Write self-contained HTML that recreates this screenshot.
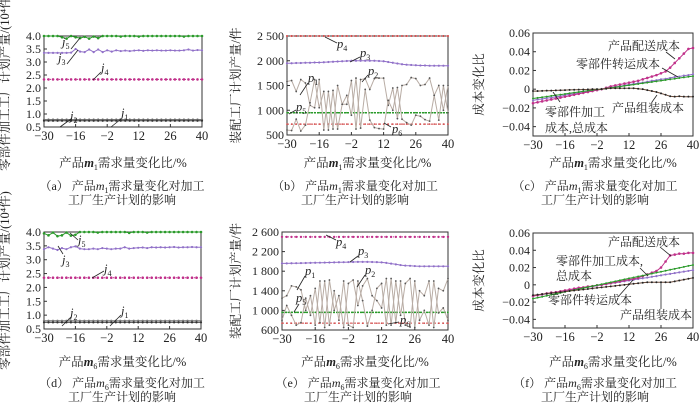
<!DOCTYPE html>
<html><head><meta charset="utf-8"><style>
html,body{margin:0;padding:0;background:#fff;width:700px;height:404px;overflow:hidden}
svg text{font-family:"Liberation Serif","Noto Serif CJK SC",serif;fill:#222}
.cn{font-family:"Liberation Serif","Noto Serif CJK SC",serif}
</style></head><body>
<svg id="fig" width="700" height="404" viewBox="0 0 700 404" xmlns="http://www.w3.org/2000/svg"></svg>
<script>
const xs=[-30,-28,-26,-24,-22,-20,-18,-16,-14,-12,-10,-8,-6,-4,-2,0,2,4,6,8,10,12,14,16,18,20,22,24,26,28,30,32,34,36,38,40];
const xTicks=[-30,-16,-2,12,26,40];
// panel a
const a_j5=[4,4,4,4,3.95,3.9,4,3.95,3.92,3.97,3.9,3.98,3.92,4,4,4,4,3.98,4,4,4,3.98,4,4,4,4,4,4,4,4,4,3.98,4,4,4,4];
const a_j3=[3.35,3.35,3.35,3.35,3.35,3.35,3.36,3.5,3.4,3.38,3.48,3.38,3.48,3.38,3.45,3.4,3.45,3.42,3.44,3.42,3.44,3.45,3.43,3.45,3.44,3.45,3.44,3.44,3.45,3.44,3.44,3.45,3.48,3.44,3.46,3.45];
const a_j4=[2.33,2.33,2.33,2.33,2.33,2.33,2.33,2.33,2.33,2.33,2.33,2.33,2.33,2.33,2.33,2.33,2.33,2.33,2.33,2.33,2.33,2.33,2.33,2.33,2.33,2.33,2.33,2.33,2.33,2.33,2.33,2.33,2.33,2.33,2.33,2.33];
const a_j2=[0.79,0.79,0.79,0.79,0.79,0.79,0.79,0.79,0.79,0.79,0.79,0.79,0.79,0.79,0.79,0.79,0.79,0.79,0.79,0.79,0.79,0.79,0.79,0.79,0.79,0.79,0.79,0.79,0.79,0.79,0.79,0.79,0.79,0.79,0.79,0.79];
const a_j1=[0.74,0.74,0.74,0.74,0.74,0.74,0.74,0.74,0.74,0.74,0.74,0.74,0.74,0.74,0.74,0.74,0.74,0.74,0.74,0.74,0.74,0.74,0.74,0.74,0.74,0.74,0.74,0.74,0.74,0.74,0.74,0.74,0.74,0.74,0.74,0.74];
const jTicks=[0.5,1.0,1.5,2.0,2.5,3.0,3.5,4.0];
// panel b
const b_p1=[1580,1600,1380,1620,1550,1100,1050,1620,600,1380,620,1500,1120,1120,1600,620,1620,1640,1420,1640,1650,1650,1100,1450,830,1500,1520,1660,1640,1500,1520,1650,1300,1500,1000,1500];
const b_p2=[600,590,820,580,700,1150,1620,1050,1380,600,1400,620,1120,1300,900,1650,640,1420,800,650,630,620,1200,1000,1460,820,750,700,900,880,810,780,1300,800,1500,950];
const b_p3=[1950,1950,1955,1955,1960,1960,1965,1965,1970,1975,1980,1985,1990,1995,2000,2000,2000,2000,2000,2000,1995,1990,1975,1960,1945,1930,1920,1915,1910,1905,1905,1900,1900,1900,1900,1900];
const b_p4=[2500,2500,2500,2500,2500,2500,2500,2500,2500,2500,2500,2500,2500,2500,2500,2500,2500,2500,2500,2500,2500,2500,2500,2500,2500,2500,2500,2500,2500,2500,2500,2500,2500,2500,2500,2500];
const b_p5=[950,950,950,950,950,950,950,950,950,950,950,950,950,950,950,950,950,950,950,950,950,950,950,950,950,950,950,950,950,950,950,950,950,950,950,950];
const b_p6=[720,720,720,720,720,720,720,720,720,720,720,720,720,720,720,720,720,720,720,720,720,720,720,720,720,720,720,720,720,720,720,720,720,720,720,720];
const bTicks=[500,1000,1500,2000,2500];
const bTickLabels=["500","1 000","1 500","2 000","2 500"];
// panel c
const c_ship=[-0.015,-0.014,-0.013,-0.012,-0.011,-0.010,-0.009,-0.008,-0.007,-0.006,-0.005,-0.004,-0.003,-0.002,-0.001,0,0.0015,0.003,0.004,0.005,0.006,0.007,0.008,0.009,0.0105,0.012,0.0135,0.015,0.017,0.019,0.023,0.028,0.033,0.038,0.043,0.044];
const c_trans=[-0.012,-0.011,-0.0105,-0.0095,-0.009,-0.008,-0.0075,-0.0065,-0.0055,-0.005,-0.004,-0.0035,-0.0025,-0.0015,-0.001,0,0.001,0.0015,0.0025,0.003,0.004,0.005,0.0055,0.0065,0.007,0.008,0.009,0.0095,0.0105,0.011,0.012,0.013,0.0135,0.0145,0.015,0.016];
const c_total=[-0.01,-0.0093,-0.0086,-0.0079,-0.0072,-0.0065,-0.0058,-0.0051,-0.0044,-0.0037,-0.003,-0.0023,-0.0016,-0.0009,-0.0002,0,0.0007,0.0014,0.0021,0.0028,0.0035,0.0042,0.0049,0.0056,0.0063,0.007,0.0077,0.0084,0.0091,0.0098,0.0105,0.0112,0.0119,0.0126,0.0133,0.014];
const c_asm=[-0.002,-0.002,-0.0018,-0.0016,-0.0015,-0.0013,-0.0012,-0.001,-0.0008,-0.0006,-0.0005,-0.0003,-0.0002,0,0,0,0.0005,0.001,0.001,0.001,0.001,0.001,0.001,0.0005,0,-0.001,-0.002,-0.003,-0.0045,-0.006,-0.0075,-0.008,-0.0075,-0.008,-0.008,-0.008];
const cTicks=[-0.04,-0.02,0,0.02,0.04,0.06];
const cTickLabels=["\u22120.04","\u22120.02","0","0.02","0.04","0.06"];
// panel d
const d_j5=[3.95,3.88,3.98,3.85,3.88,3.98,3.87,3.9,4,4,4,4,3.98,4,4,4,4,4,4,3.97,4,4,4,3.98,4,4,4,4,4,4,4,4,4,4,4,4];
const d_j3=[3.38,3.45,3.4,3.35,3.42,3.38,3.45,3.48,3.4,3.38,3.38,3.4,3.38,3.42,3.4,3.38,3.4,3.4,3.45,3.4,3.42,3.43,3.44,3.42,3.45,3.44,3.45,3.44,3.45,3.46,3.44,3.45,3.45,3.46,3.45,3.45];
const d_j4=[2.35,2.35,2.35,2.35,2.35,2.35,2.35,2.35,2.35,2.35,2.35,2.35,2.35,2.35,2.35,2.35,2.35,2.35,2.35,2.35,2.35,2.35,2.35,2.35,2.35,2.35,2.35,2.35,2.35,2.35,2.35,2.35,2.35,2.35,2.35,2.35];
const d_j2=[0.8,0.8,0.8,0.8,0.8,0.8,0.8,0.8,0.8,0.8,0.8,0.8,0.8,0.8,0.8,0.8,0.8,0.8,0.8,0.8,0.8,0.8,0.8,0.8,0.8,0.8,0.8,0.8,0.8,0.8,0.8,0.8,0.8,0.8,0.8,0.8];
const d_j1=[0.74,0.74,0.74,0.74,0.74,0.74,0.74,0.74,0.74,0.74,0.74,0.74,0.74,0.74,0.74,0.74,0.74,0.74,0.74,0.74,0.74,0.74,0.74,0.74,0.74,0.74,0.74,0.74,0.74,0.74,0.74,0.74,0.74,0.74,0.74,0.74];
// panel e
const e_p1=[1250,1300,1500,1480,1420,1000,1300,700,1600,650,1620,1000,1300,650,1550,1620,1100,1500,1650,1300,1200,1050,1650,700,1600,900,1550,1650,650,1400,1300,1600,650,1450,1400,1650];
const e_p2=[800,1100,900,700,750,1250,900,1450,750,1600,700,1400,800,1600,700,650,1600,1200,680,1000,1450,1550,700,1650,750,1600,700,660,1600,800,1000,700,1600,950,1050,800];
const e_p3=[1960,1960,1962,1964,1966,1968,1970,1972,1974,1976,1978,1980,1982,1984,1986,1988,1990,1990,1990,1988,1985,1980,1970,1955,1940,1925,1915,1910,1905,1900,1900,1900,1900,1900,1900,1900];
const e_p4=[2500,2500,2500,2500,2500,2500,2500,2500,2500,2500,2500,2500,2500,2500,2500,2500,2500,2500,2500,2500,2500,2500,2500,2500,2500,2500,2500,2500,2500,2500,2500,2500,2500,2500,2500,2500];
const e_p5=[960,960,960,960,960,960,960,960,960,960,960,960,960,960,960,960,960,960,960,960,960,960,960,960,960,960,960,960,960,960,960,960,960,960,960,960];
const e_p6=[740,740,740,740,740,740,740,740,740,740,740,740,740,740,740,740,740,740,740,740,740,740,740,740,740,740,740,740,740,740,740,740,740,740,740,740];
const eTicks=[600,1000,1400,1800,2200,2600];
const eTickLabels=["600","1 000","1 400","1 800","2 200","2 600"];
// panel f
const f_ship=[-0.013,-0.012,-0.011,-0.010,-0.009,-0.0085,-0.0075,-0.0065,-0.0055,-0.0045,-0.0035,-0.003,-0.002,-0.0015,-0.0005,0,0.001,0.002,0.003,0.004,0.005,0.006,0.007,0.008,0.01,0.012,0.014,0.016,0.02,0.027,0.034,0.035,0.036,0.036,0.037,0.037];
const f_total=[-0.016,-0.0149,-0.0138,-0.0127,-0.0115,-0.0104,-0.0093,-0.0082,-0.0071,-0.006,-0.0049,-0.0037,-0.0026,-0.0015,-0.0004,0.0007,0.0018,0.0029,0.004,0.0052,0.0063,0.0074,0.0085,0.0096,0.0107,0.0118,0.013,0.0141,0.0152,0.0163,0.0174,0.0185,0.0196,0.0208,0.0219,0.023];
const f_trans=[-0.013,-0.0121,-0.0113,-0.0104,-0.0096,-0.0087,-0.0079,-0.007,-0.0061,-0.0053,-0.0044,-0.0036,-0.0027,-0.0019,-0.001,-0.0001,0.0007,0.0016,0.0024,0.0033,0.0041,0.005,0.0059,0.0067,0.0076,0.0084,0.0093,0.0101,0.011,0.0119,0.0127,0.0136,0.0144,0.0153,0.0161,0.017];
const f_asm=[-0.012,-0.0114,-0.0108,-0.0102,-0.0096,-0.009,-0.0084,-0.0078,-0.0072,-0.0066,-0.006,-0.0054,-0.0048,-0.0042,-0.0036,-0.003,-0.0024,-0.0018,-0.0012,-0.0006,0,0.0006,0.0012,0.0018,0.0024,0.003,0.003,0.003,0.003,0.003,0.003,0.004,0.005,0.006,0.007,0.008];

const NS="http://www.w3.org/2000/svg";
const svg=document.getElementById('fig');
function el(tag,attrs,parent,txt){const e=document.createElementNS(NS,tag);for(const k in attrs)e.setAttribute(k,attrs[k]);if(txt!==undefined)e.textContent=txt;(parent||svg).appendChild(e);return e;}

function panel(p){
  const g=el('g',{});
  
  
  const sx=v=>p.x0+(v-p.xmin)/(p.xmax-p.xmin)*(p.x1-p.x0);
  const sy=v=>p.y1-(v-p.ymin)/(p.ymax-p.ymin)*(p.y1-p.y0);
  const box=el('rect',{x:p.x0,y:p.y0,width:p.x1-p.x0,height:p.y1-p.y0,fill:'none',stroke:'#333','stroke-width':1},g);
  
  
  xTicks.forEach(t=>{
    el('line',{x1:sx(t),x2:sx(t),y1:p.y1,y2:p.y1-3,stroke:'#333'},g);
    const tx=el('text',{x:sx(t),y:p.y1+13,'text-anchor':'middle','font-size':12.5},g,t<0?'\u2212'+(-t):String(t));
    
    
  });
  p.yt.forEach((t,i)=>{
    el('line',{x1:p.x0,x2:p.x0+3,y1:sy(t),y2:sy(t),stroke:'#333'},g);
    const ty=el('text',{x:p.x0-3,y:sy(t)+4,'text-anchor':'end','font-size':12},g,p.ytl[i]);
    
    
  });
  p.series.forEach(s=>{
    const d=s.v.map((v,i)=>(i?'L':'M')+sx(xs[i]).toFixed(1)+' '+sy(v).toFixed(1)).join(' ');
    const path=el('path',{d:d,fill:'none',stroke:s.c,'stroke-width':s.w||1,'stroke-dasharray':s.dash||'none'},g);
    
    
    s.v.forEach((v,i)=>{
      const c=el('circle',{cx:sx(xs[i]),cy:sy(v),r:s.r||1.1,fill:s.mc||s.c},g);
      
      
    });
  });
  const xl=el('text',{x:(p.x0+p.x1)/2,y:p.xly,'text-anchor':'middle','font-size':12.5,class:'cn'},g);
  
  
  el('tspan',{},xl,'产品');
  el('tspan',{'font-style':'italic','font-weight':'bold'},xl,'m');
  el('tspan',{'font-size':8,dy:3},xl,p.sub);
  el('tspan',{dy:-3},xl,'需求量变化比/%');
  const yl=el('text',{x:0,y:0,'text-anchor':'middle','font-size':12.5,class:'cn',transform:`translate(${p.ylx},${(p.y0+p.y1)/2}) rotate(-90)`},g,p.ylab);
  
  
  p.ann.forEach(a=>{
    el('line',{x1:a[0],y1:a[1],x2:a[2],y2:a[3],stroke:'#222','stroke-width':0.8},g);
  });
  p.labels.forEach(l=>{
    const t=el('text',{x:l[0],y:l[1],'font-size':l[3]||12.5,class:'cn','font-style':l[4]?'italic':'normal'},g);
    
    
    if(l[4]){el('tspan',{},t,l[2][0]);el('tspan',{'font-size':8,dy:3,'font-style':'normal'},t,l[2].slice(1));}
    else t.textContent=l[2];
  });
  const cap1=el('text',{x:p.capx,y:p.capy,'text-anchor':'middle','font-size':12,class:'cn'},g);
  
  
  el('tspan',{},cap1,'（'+p.letter+'） 产品');
  el('tspan',{'font-style':'italic'},cap1,'m');
  el('tspan',{'font-size':8,dy:3},cap1,p.sub);
  el('tspan',{dy:-3},cap1,'需求量变化对加工');
  const cap2=el('text',{x:p.capx,y:p.capy+14,'text-anchor':'middle','font-size':12,class:'cn'},g,'工厂生产计划的影响');
  
  
}
const jL="零部件加工工厂计划产量/(10⁴件)", pL="装配工厂计划产量/件", cL="成本变化比";
const jLab=jTicks.map(t=>t.toFixed(1));
const G='#2a9a2a',PU='#9070c8',MG='#c0308a',BK='#333',BR='#b8aca4',RD='#d04040';
panel({name:'chart-a',letter:'a',sub:'1',x0:44,x1:202,y0:36,y1:127,xmin:-30,xmax:40,ymin:0.5,ymax:4.0,yt:jTicks,ytl:jLab,xly:167,ylx:9,ylab:jL,capx:122,capy:190,
 series:[{n:'j5-line',v:a_j5,c:G,r:1.3},{n:'j3-line',v:a_j3,c:PU},{n:'j4-line',v:a_j4,c:MG,dash:'1 2',r:1.3},{n:'j2-line',v:a_j2,c:'#777'},{n:'j1-line',v:a_j1,c:BK}],
 ann:[[71,49,80,38],[67,64,78,50],[93,80,101,72],[60,127,71,119],[111,127,121,119]],
 labels:[[62,46,'j5',12.5,1],[58,62,'j3',12.5,1],[101,72,'j4',12.5,1],[70,120,'j2',12.5,1],[121,117,'j1',12.5,1]]});
panel({name:'chart-b',letter:'b',sub:'1',x0:287,x1:448,y0:36,y1:135,xmin:-30,xmax:40,ymin:500,ymax:2500,yt:bTicks,ytl:bTickLabels,xly:167,ylx:240,ylab:pL,capx:355,capy:190,
 series:[{n:'p4-line',v:b_p4,c:RD,dash:'1 2',r:1},{n:'p3-line',v:b_p3,c:PU},{n:'p5-line',v:b_p5,c:G,dash:'2 1',w:1.5,r:0.8},{n:'p6-line',v:b_p6,c:RD,dash:'2 2',r:0.8},{n:'p1-line',v:b_p1,c:BR,mc:'#555',r:0.9},{n:'p2-line',v:b_p2,c:BR,mc:'#555',r:0.9}],
 ann:[[325,37,337,43],[350,62,360,57],[308,83,300,95],[368,75,362,82],[296,110,289,114],[391,127,384,123]],
 labels:[[337,48,'p4',12.5,1],[360,57,'p3',12.5,1],[308,82,'p1',12.5,1],[368,75,'p2',12.5,1],[296,111,'p5',12.5,1],[392,133,'p6',12.5,1]]});
panel({name:'chart-c',letter:'c',sub:'1',x0:533,x1:693,y0:33,y1:136,xmin:-30,xmax:40,ymin:-0.05,ymax:0.06,yt:cTicks,ytl:cTickLabels,xly:167,ylx:483,ylab:cL,capx:595,capy:190,
 series:[{n:'transport-cost-line',v:c_trans,c:PU},{n:'delivery-cost-line',v:c_ship,c:MG,r:1.3},{n:'total-cost-line',v:c_total,c:G,r:1},{n:'assembly-cost-line',v:c_asm,c:'#6a4a3a',mc:'#222',r:1}],
 ann:[[666,52,675,59],[662,68,678,77],[560,102,553,92],[652,102,657,95]],
 labels:[[608,50,'产品配送成本',12],[576,68,'零部件转运成本',12],[545,116,'零部件加工',12],[545,132,'成本,总成本',12],[612,112,'产品组装成本',12]]});
panel({name:'chart-d',letter:'d',sub:'6',x0:44,x1:201,y0:232,y1:329,xmin:-30,xmax:40,ymin:0.5,ymax:4.0,yt:jTicks,ytl:jLab,xly:366,ylx:9,ylab:jL,capx:122,capy:387,
 series:[{n:'j5-line',v:d_j5,c:G,r:1.3},{n:'j3-line',v:d_j3,c:PU},{n:'j4-line',v:d_j4,c:MG,dash:'1 2',r:1.3},{n:'j2-line',v:d_j2,c:'#777'},{n:'j1-line',v:d_j1,c:BK}],
 ann:[[78,240,70,233],[63,254,58,246],[104,271,92,278],[71,317,62,326],[121,315,110,326]],
 labels:[[78,244,'j5',12.5,1],[62,264,'j3',12.5,1],[104,273,'j4',12.5,1],[70,317,'j2',12.5,1],[121,315,'j1',12.5,1]]});
panel({name:'chart-e',letter:'e',sub:'6',x0:282,x1:448,y0:232,y1:330,xmin:-30,xmax:40,ymin:600,ymax:2600,yt:eTicks,ytl:eTickLabels,xly:366,ylx:240,ylab:pL,capx:358,capy:387,
 series:[{n:'p4-line',v:e_p4,c:MG,dash:'1 2',r:1.2},{n:'p3-line',v:e_p3,c:PU},{n:'p5-line',v:e_p5,c:G,dash:'2 1',w:1.5,r:0.8},{n:'p6-line',v:e_p6,c:RD,dash:'2 2',r:0.8},{n:'p1-line',v:e_p1,c:BR,mc:'#555',r:0.9},{n:'p2-line',v:e_p2,c:BR,mc:'#555',r:0.9}],
 ann:[[336,240,326,235],[358,256,350,262],[305,276,297,290],[365,275,357,287],[299,304,294,312],[399,322,388,324]],
 labels:[[336,246,'p4',12.5,1],[358,255,'p3',12.5,1],[305,275,'p1',12.5,1],[365,274,'p2',12.5,1],[296,302,'p5',12.5,1],[400,324,'p6',12.5,1]]});
panel({name:'chart-f',letter:'f',sub:'6',x0:533,x1:693,y0:233,y1:328,xmin:-30,xmax:40,ymin:-0.05,ymax:0.06,yt:cTicks,ytl:cTickLabels,xly:366,ylx:483,ylab:cL,capx:595,capy:387,
 series:[{n:'transport-cost-line',v:f_trans,c:PU},{n:'delivery-cost-line',v:f_ship,c:MG,r:1.3},{n:'total-cost-line',v:f_total,c:G,r:1},{n:'assembly-cost-line',v:f_asm,c:'#6a4a3a',mc:'#222',r:1}],
 ann:[[660,247,671,256],[640,268,648,276],[618,297,633,280],[661,309,661,283]],
 labels:[[608,246,'产品配送成本',12],[556,265,'零部件加工成本,',12],[556,280,'总成本',12],[548,304,'零部件转运成本',12],[620,319,'产品组装成本',12]]});
</script>
</body></html>
